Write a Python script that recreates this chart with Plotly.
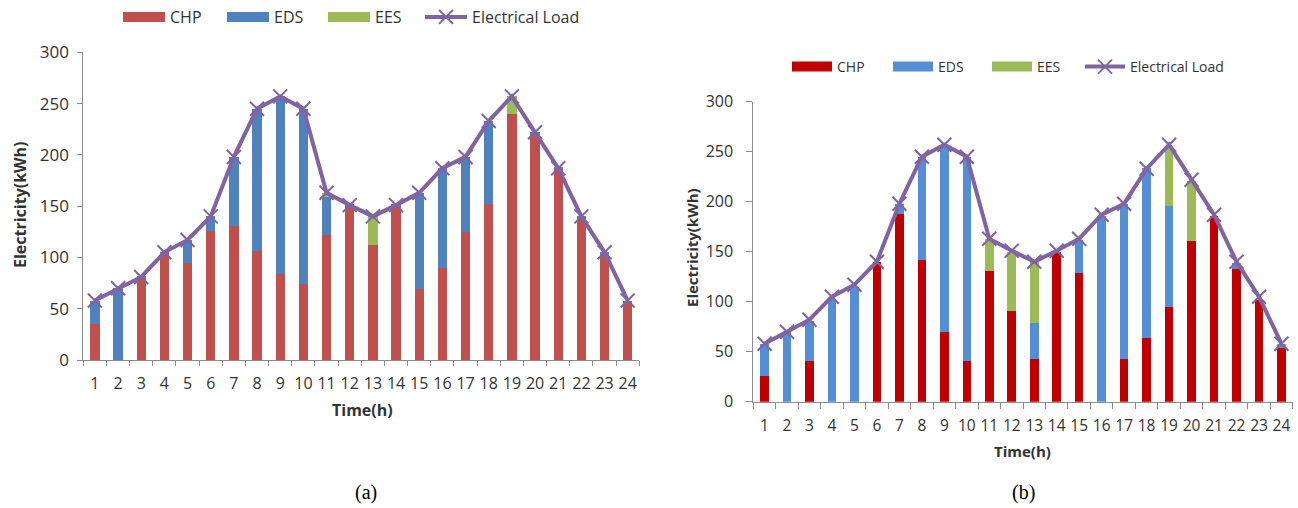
import plotly.graph_objects as go

hours = [str(h) for h in range(1, 25)]

# (a) dispatch
load_a = [58, 70, 81, 105, 117, 140, 198, 245, 257, 245, 163, 151, 140, 151, 163, 187, 198, 233, 257, 222, 187, 140, 105, 58]
chp_a = [35, 0, 80, 104, 95, 126, 131, 106, 84, 74, 122, 150, 112, 150, 69, 90, 125, 152, 240, 221, 186, 138, 102, 56]
eds_a = [23, 70, 1, 1, 22, 14, 67, 139, 173, 171, 37, 1, 0, 1, 94, 97, 73, 81, 0, 1, 1, 2, 3, 2]
ees_a = [0, 0, 0, 0, 0, 0, 0, 0, 0, 0, 4, 0, 28, 0, 0, 0, 0, 0, 17, 0, 0, 0, 0, 0]

# (b) dispatch
load_b = [58, 70, 82, 105, 117, 140, 198, 245, 257, 245, 163, 151, 140, 151, 163, 187, 198, 233, 257, 222, 187, 140, 105, 58]
chp_b = [26, 0, 41, 0, 0, 140, 188, 142, 70, 41, 131, 91, 43, 150, 129, 0, 43, 64, 95, 161, 186, 133, 102, 54]
eds_b = [32, 70, 40, 103, 115, 0, 10, 103, 187, 204, 0, 0, 36, 0, 33, 186, 155, 170, 101, 0, 0, 6, 0, 4]
ees_b = [0, 0, 0, 0, 0, 0, 0, 0, 0, 0, 32, 59, 61, 0, 0, 0, 0, 0, 59, 60, 0, 0, 0, 0]

colors_a = {"CHP": "#C0504D", "EDS": "#4F81BD", "EES": "#9BBB59", "Load": "#8064A2"}
colors_b = {"CHP": "#C00000", "EDS": "#558ED5", "EES": "#9BBB59", "Load": "#8064A2"}

W, H = 1298, 508
def px_x(p):
    return p / W
def px_y(p):
    return 1 - p / H

fig = go.Figure()

panels = [
    dict(xa="x", ya="y", legs=["legend", "legend2", "legend3", "legend4"],
         chp=chp_a, eds=eds_a, ees=ees_a, load=load_a, col=colors_a, bw=0.4),
    dict(xa="x2", ya="y2", legs=["legend5", "legend6", "legend7", "legend8"],
         chp=chp_b, eds=eds_b, ees=ees_b, load=load_b, col=colors_b, bw=0.38),
]

for p in panels:
    for i, (name, vals) in enumerate((("CHP", p["chp"]), ("EDS", p["eds"]), ("EES", p["ees"]))):
        fig.add_trace(go.Bar(x=hours, y=vals, name=name, marker=dict(color=p["col"][name], line=dict(width=0)),
                             width=p["bw"], xaxis=p["xa"], yaxis=p["ya"], showlegend=False))
        # legend swatch
        fig.add_trace(go.Scatter(x=[None], y=[None], mode="lines", name=name,
                                 line=dict(color=p["col"][name], width=10),
                                 xaxis=p["xa"], yaxis=p["ya"], legend=p["legs"][i]))
    fig.add_trace(go.Scatter(x=hours, y=p["load"], mode="lines+markers", name="Electrical Load",
                             line=dict(color=p["col"]["Load"], width=4),
                             marker=dict(symbol="x-thin", size=14, line=dict(width=2, color=p["col"]["Load"]),
                                         color=p["col"]["Load"]),
                             xaxis=p["xa"], yaxis=p["ya"], legend=p["legs"][3]))

axis_common = dict(showline=True, linecolor="#8C8C8C", linewidth=1, ticks="outside", tickcolor="#8C8C8C",
                   showgrid=False, zeroline=False, automargin=False)

layout = dict(
    width=W, height=H, margin=dict(l=0, r=0, t=0, b=0),
    paper_bgcolor="white", plot_bgcolor="white", barmode="stack",
    font=dict(family="Open Sans", color="#333333"),
    xaxis=dict(domain=[px_x(83.3), px_x(639.3)], anchor="y", type="category", tickson="boundaries",
               range=[-0.5, 23.5], tickangle=0, ticklen=5, ticklabelstandoff=9,
               tickfont=dict(size=16), **axis_common),
    yaxis=dict(domain=[px_y(360), px_y(52.3)], anchor="x", range=[0, 300], dtick=50, ticklen=5,
               ticklabelstandoff=5, tickfont=dict(size=17), **axis_common),
    xaxis2=dict(domain=[px_x(753.3), px_x(1292.7)], anchor="y2", type="category", tickson="boundaries",
                range=[-0.5, 23.5], tickangle=0, ticklen=6, ticklabelstandoff=10,
                tickfont=dict(size=15.5), **axis_common),
    yaxis2=dict(domain=[px_y(401.7), px_y(101.7)], anchor="x2", range=[0, 300], dtick=50, ticklen=6,
                ticklabelstandoff=10, tickfont=dict(size=16), **axis_common),
)

leg_x_a = [118, 222, 323, 420]
leg_x_b = [787, 888, 987, 1080]
for i, lx in enumerate(leg_x_a):
    key = "legend" if i == 0 else "legend%d" % (i + 1)
    layout[key] = dict(orientation="h", x=px_x(lx), xanchor="left",
                       y=px_y(0), yanchor="top", font=dict(size=16, color="#333333"), itemwidth=42,
                       bgcolor="rgba(0,0,0,0)")
for i, lx in enumerate(leg_x_b):
    key = "legend%d" % (i + 5)
    layout[key] = dict(orientation="h", x=px_x(lx), xanchor="left",
                       y=px_y(51), yanchor="top", font=dict(size=14, color="#333333"), itemwidth=40,
                       bgcolor="rgba(0,0,0,0)")
fig.update_layout(**layout)

annotations = [
    dict(text="<b>Time(h)</b>", x=px_x(363), y=px_y(410), font=dict(size=16, color="#333333")),
    dict(text="<b>Electricity(kWh)</b>", x=px_x(20), y=px_y(205), textangle=-90, font=dict(size=16, color="#333333")),
    dict(text="<b>Time(h)</b>", x=px_x(1022), y=px_y(451), font=dict(size=15, color="#333333")),
    dict(text="<b>Electricity(kWh)</b>", x=px_x(692), y=px_y(248), textangle=-90, font=dict(size=15, color="#333333")),
    dict(text="(a)", x=px_x(366), y=px_y(492), font=dict(size=20, family="Liberation Serif", color="#000000")),
    dict(text="(b)", x=px_x(1023), y=px_y(492), font=dict(size=20, family="Liberation Serif", color="#000000")),
]
for a in annotations:
    a.update(xref="paper", yref="paper", showarrow=False, xanchor="center", yanchor="middle")
fig.update_layout(annotations=annotations)

fig.write_html("out.html")
